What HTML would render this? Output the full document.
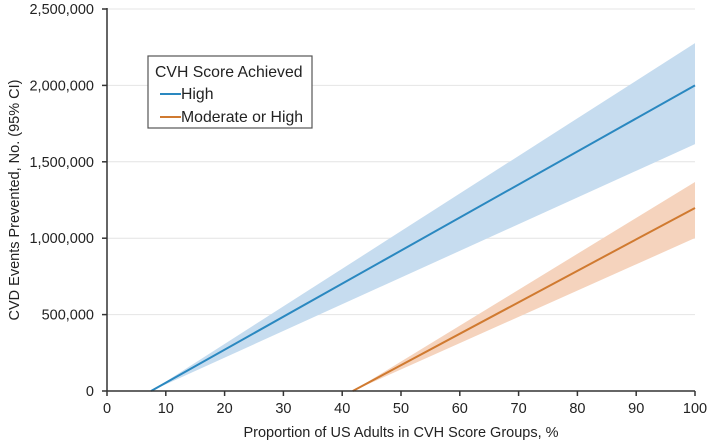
<!DOCTYPE html>
<html><head><meta charset="utf-8"><style>
body{margin:0;background:#fff}
svg{display:block;font-family:"Liberation Sans",Arial,sans-serif}
</style></head><body>
<svg id="chart" width="709" height="443">
<g id="grid"></g><g id="bands"></g><g id="lines"></g><g id="axes"></g>
<g>
<rect x="148" y="56" width="164" height="72" fill="#fff" stroke="#555" stroke-width="1.2"/>
<text x="155" y="77" font-size="15.8" fill="#222">CVH Score Achieved</text>
<line x1="160" y1="94" x2="181" y2="94" stroke="#2a88c0" stroke-width="2"/>
<text x="181" y="99" font-size="15.8" fill="#222">High</text>
<line x1="160" y1="117" x2="181" y2="117" stroke="#d07a30" stroke-width="2"/>
<text x="181" y="122" font-size="15.8" fill="#222">Moderate or High</text>
</g>
<text x="401" y="437" font-size="14.5" fill="#222" text-anchor="middle">Proportion of US Adults in CVH Score Groups, %</text>
<text transform="translate(19,200) rotate(-90)" font-size="14.5" fill="#222" text-anchor="middle">CVD Events Prevented, No. (95% CI)</text>
</svg>
<script>
const xTicks=[0,10,20,30,40,50,60,70,80,90,100];
const yTicks=[0,500000,1000000,1500000,2000000,2500000];
const yTickLabels=["0","500,000","1,000,000","1,500,000","2,000,000","2,500,000"];
const seriesNames=["High","Moderate or High"];
const xStart=[7.5,41.8];
const xEnd=[100,100];
const estEnd=[2000000,1198000];
const lowEnd=[1616000,1001000];
const highEnd=[2277000,1368000];
const colors=["#2a88c0","#d07a30"];
const fills=["#c6dcef","#f5d3bd"];
const X=v=>107+v*5.88, Y=v=>391-v/500000*76.4;
const ns="http://www.w3.org/2000/svg";
function mk(p,t,a){const e=document.createElementNS(ns,t);for(const k in a)e.setAttribute(k,a[k]);document.getElementById(p).appendChild(e);return e;}
yTicks.forEach((v,i)=>{
 if(v>0){const g=mk('grid','line',{x1:107,x2:X(100),y1:Y(v),y2:Y(v),stroke:'#e4e4e4','stroke-width':1});
 
 }
 mk('axes','line',{x1:102,x2:107,y1:Y(v),y2:Y(v),stroke:'#333','stroke-width':1.5});
 const l=mk('axes','text',{x:94,y:Y(v)+5,'font-size':14.5,'text-anchor':'end',fill:'#222'});
 l.textContent=yTickLabels[i];
 
 
});
xTicks.forEach(v=>{
 mk('axes','line',{x1:X(v),x2:X(v),y1:391,y2:396,stroke:'#333','stroke-width':1.5});
 const l=mk('axes','text',{x:X(v),y:413,'font-size':14.5,'text-anchor':'middle',fill:'#222'});
 l.textContent=v;
 
 
});
mk('axes','line',{x1:107,x2:107,y1:8,y2:391,stroke:'#333','stroke-width':1.5});
mk('axes','line',{x1:107,x2:X(100),y1:391,y2:391,stroke:'#333','stroke-width':1.5});
seriesNames.forEach((n,i)=>{
 const b=mk('bands','polygon',{points:`${X(xStart[i])},${Y(0)} ${X(xEnd[i])},${Y(highEnd[i])} ${X(xEnd[i])},${Y(lowEnd[i])}`,fill:fills[i]});
 
 
 const l=mk('lines','line',{x1:X(xStart[i]),y1:Y(0),x2:X(xEnd[i]),y2:Y(estEnd[i]),stroke:colors[i],'stroke-width':2});
 
 
});
</script>
</body></html>
